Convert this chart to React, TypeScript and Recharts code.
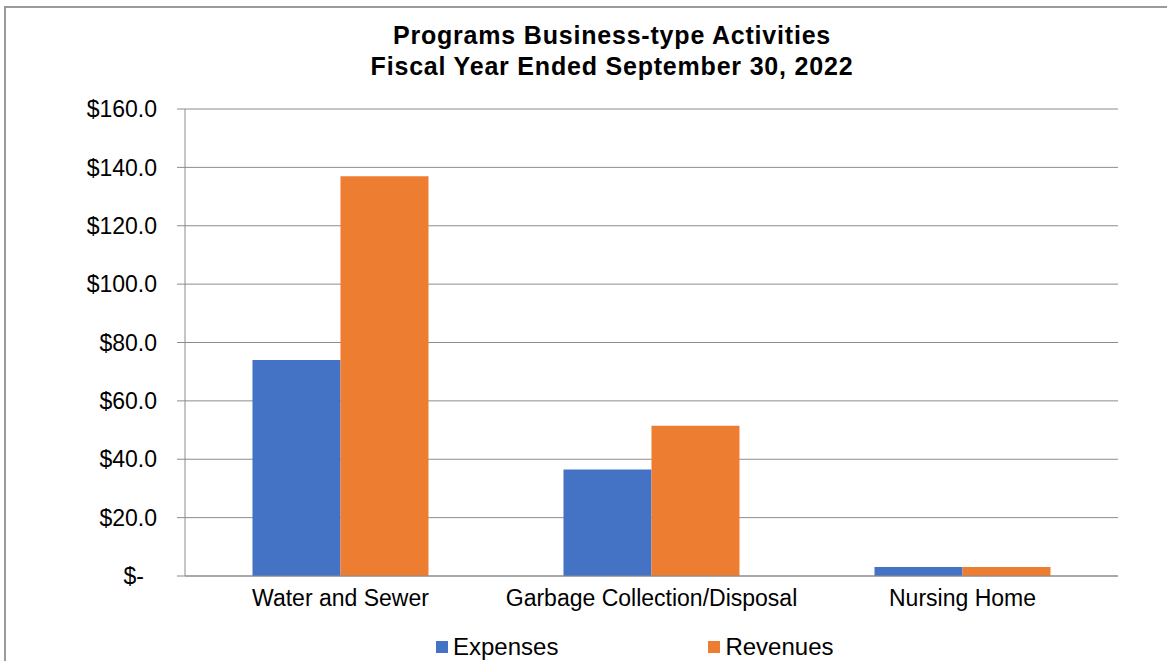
import React from "react";
import { BarChart, Bar, XAxis, YAxis, CartesianGrid, Legend } from "recharts";

// Business-type activity programs, in millions of dollars
const categories = ["Water and Sewer", "Garbage Collection/Disposal", "Nursing Home"];
const expenses = [74.0, 36.5, 3.1];
const revenues = [137.0, 51.5, 3.1];
const yTicks = [0, 20, 40, 60, 80, 100, 120, 140, 160];
const titleLines = ["Programs Business-type Activities", "Fiscal Year Ended September 30, 2022"];

const data = categories.map((name, i) => ({
  name,
  Expenses: expenses[i],
  Revenues: revenues[i],
}));

const FONT = '"Liberation Sans", Arial, Helvetica, sans-serif';
const BLUE = "#4472C4";
const ORANGE = "#ED7D31";
const GRID = "#8c8c8c";

const formatMoney = (v: number) => (v === 0 ? "$-" : `$${v.toFixed(1)}`);

// Accounting-style y tick: the zero value "$-" sits a little left of the numbers
const YTick = (props: any) => {
  const { x, y, payload } = props;
  const isZero = payload.value === 0;
  return (
    <text
      x={x - (isZero ? 13 : 0)}
      y={y}
      dy="0.355em"
      textAnchor="end"
      fontFamily={FONT}
      fontSize={23}
      fill="#000"
    >
      {formatMoney(payload.value)}
    </text>
  );
};

const LegendContent = (props: any) => {
  const { payload } = props;
  return (
    <div style={{ display: "flex", alignItems: "center", marginLeft: 436, fontFamily: FONT, fontSize: 24, color: "#000" }}>
      {(payload || []).map((p: any, i: number) => (
        <div key={p.value} style={{ display: "flex", alignItems: "center", marginRight: i === 0 ? 150 : 0 }}>
          <span style={{ display: "inline-block", width: 12, height: 12, background: p.color, marginRight: 5 }} />
          <span style={{ lineHeight: "28px" }}>{p.value}</span>
        </div>
      ))}
    </div>
  );
};

export default function App() {
  return (
    <div
      style={{
        position: "absolute",
        left: 0,
        top: 0,
        width: 1167,
        height: 661,
        background: "#fff",
        overflow: "hidden",
      }}
    >
      {/* chart-area frame: left and top edges */}
      <div
        style={{
          position: "absolute",
          left: 4,
          top: 6,
          width: 1200,
          height: 700,
          borderLeft: "2px solid #9a9a9a",
          borderTop: "2px solid #9a9a9a",
          boxSizing: "border-box",
        }}
      />
      <div style={{ position: "absolute", left: 0, top: 0 }}>
        <BarChart
          width={1167}
          height={661}
          data={data}
          margin={{ top: 109, right: 49, left: 0, bottom: 45 }}
          barCategoryGap="21.7%"
          barGap={0}
        >
          <CartesianGrid vertical={false} stroke={GRID} strokeWidth={1} />
          <XAxis
            dataKey="name"
            height={40}
            tickSize={0}
            tickMargin={14}
            axisLine={{ stroke: GRID }}
            tickLine={false}
            tick={{ fontFamily: FONT, fontSize: 23, fill: "#000" }}
          />
          <YAxis
            width={185}
            domain={[0, 160]}
            ticks={yTicks}
            interval={0}
            tickSize={8}
            tickMargin={20}
            axisLine={{ stroke: GRID }}
            tickLine={{ stroke: GRID }}
            tick={<YTick />}
          />
          <Legend
            verticalAlign="middle"
            align="center"
            layout="horizontal"
            content={<LegendContent />}
            wrapperStyle={{ top: 633, left: 0, width: 1167 }}
          />
          <Bar dataKey="Expenses" name="Expenses" fill={BLUE} isAnimationActive={false} />
          <Bar dataKey="Revenues" name="Revenues" fill={ORANGE} isAnimationActive={false} />
        </BarChart>
      </div>
      <div
        style={{
          position: "absolute",
          left: 312,
          top: 20,
          width: 600,
          textAlign: "center",
          fontFamily: FONT,
          fontWeight: "bold",
          fontSize: 25,
          lineHeight: "31px",
          letterSpacing: 0.8,
          color: "#000",
          whiteSpace: "nowrap",
        }}
      >
        {titleLines.map((t) => (
          <div key={t}>{t}</div>
        ))}
      </div>
    </div>
  );
}
